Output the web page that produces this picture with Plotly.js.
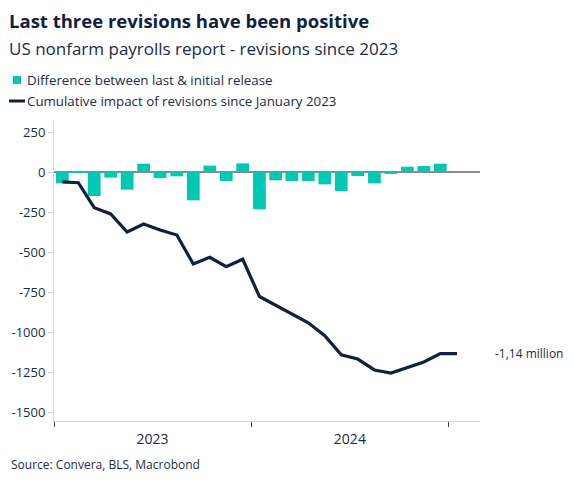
<!DOCTYPE html>
<html>
<head>
<meta charset="utf-8">
<script src="https://cdn.plot.ly/plotly-3.0.1.min.js"></script>
<style>html,body{margin:0;padding:0;background:#fff;}#chart{width:574px;height:483px;}</style>
</head>
<body>
<div id="chart"></div>
<script>
// ---- data ----
const barMonths = ['2023-01','2023-02','2023-03','2023-04','2023-05','2023-06','2023-07','2023-08','2023-09','2023-10','2023-11','2023-12',
                   '2024-01','2024-02','2024-03','2024-04','2024-05','2024-06','2024-07','2024-08','2024-09','2024-10','2024-11','2024-12'];
const revisions = [-71, -6, -150, -35, -110, 52, -37, -27, -177, 40, -56, 54,
                   -233, -52, -56, -56, -77, -119, -25, -71, -12, 33, 37, 52];
const lineMonths = ['2023-01','2023-02','2023-03','2023-04','2023-05','2023-06','2023-07','2023-08','2023-09','2023-10','2023-11','2023-12',
                    '2024-01','2024-02','2024-03','2024-04','2024-05','2024-06','2024-07','2024-08','2024-09','2024-10','2024-11','2024-12','2025-01'];
const cumulative = [-62, -67, -223, -262, -375, -325, -362, -394, -575, -533, -592, -545,
                    -778, -833, -886, -942, -1023, -1142, -1169, -1237, -1256, -1221, -1187, -1135, -1135];
const yTickVals = [250, 0, -250, -500, -750, -1000, -1250, -1500];
const yTickText = ['250', '0', '-250', '-500', '-750', '-1000', '-1250', '-1500'];
const barName = 'Difference between last & initial release';
const lineName = 'Cumulative impact of revisions since January 2023';
const endLabel = '-1,14 million';

// ---- style ----
const NAVY = '#0e2240';
const TEAL = '#00c8b4';
const TXT = '#1b2b48';
const FONT = 'Open Sans, Noto Sans, sans-serif';
const W = 574, H = 483, L = 54, R = 94, T = 120, B = 62;
const pw = W - L - R, ph = H - T - B;
const px = p => (p - L) / pw;
const py = p => (H - B - p) / ph;

const traces = [
  {
    type: 'bar', x: barMonths, y: revisions, name: barName,
    xperiod: 'M1', xperiodalignment: 'middle',
    marker: {color: TEAL, line: {width: 0}},
    showlegend: false, hoverinfo: 'x+y'
  },
  {
    type: 'scatter', mode: 'lines', x: lineMonths, y: cumulative, name: lineName,
    xperiod: 'M1', xperiodalignment: 'middle',
    line: {color: NAVY, width: 3.2},
    showlegend: false
  }
];

const layout = {
  width: W, height: H,
  margin: {l: L, r: R, t: T, b: B},
  paper_bgcolor: '#fff', plot_bgcolor: '#fff',
  font: {family: FONT, color: TXT, size: 13},
  bargap: 0.2,
  showlegend: false,
  title: {
    text: '<b>Last three revisions have been positive</b>',
    font: {family: FONT, size: 18.5, color: NAVY},
    xref: 'container', x: 9 / W, xanchor: 'left',
    yref: 'container', y: 1 - 22 / H, yanchor: 'middle'
  },
  xaxis: {
    type: 'date',
    range: ['2023-01-01', '2025-02-28'],
    tick0: '2023-01-01', dtick: 'M12',
    ticklabelmode: 'period', tickformat: '%Y',
    ticks: 'outside', ticklen: 5, tickcolor: '#444', tickwidth: 1,
    showline: true, linecolor: '#d9d9d9', linewidth: 1,
    showgrid: false, zeroline: false,
    tickfont: {size: 14, color: TXT}
  },
  yaxis: {
    range: [-1556, 325],
    tickvals: yTickVals, ticktext: yTickText,
    ticks: 'outside', ticklen: 5, tickcolor: '#cfcfcf',
    showline: true, linecolor: '#d9d9d9', linewidth: 1,
    showgrid: false,
    zeroline: true, zerolinecolor: '#8a8a8a', zerolinewidth: 1.5,
    tickfont: {size: 13, color: TXT}
  },
  shapes: [
    {type: 'rect', xref: 'paper', yref: 'paper', x0: px(13), x1: px(21), y0: py(84), y1: py(76),
     fillcolor: TEAL, line: {width: 0}},
    {type: 'line', xref: 'paper', yref: 'paper', x0: px(9), x1: px(25), y0: py(101), y1: py(101),
     line: {color: NAVY, width: 3}}
  ],
  annotations: [
    {text: 'US nonfarm payrolls report - revisions since 2023', xref: 'paper', yref: 'paper',
     x: px(7), y: py(48), xanchor: 'left', yanchor: 'middle', showarrow: false,
     font: {size: 17, color: TXT}},
    {text: barName, xref: 'paper', yref: 'paper', x: px(25), y: py(80), xanchor: 'left', yanchor: 'middle',
     showarrow: false, font: {size: 13.3, color: TXT}},
    {text: lineName, xref: 'paper', yref: 'paper', x: px(25), y: py(101), xanchor: 'left', yanchor: 'middle',
     showarrow: false, font: {size: 13.3, color: TXT}},
    {text: endLabel, xref: 'paper', yref: 'y', x: px(493), y: cumulative[cumulative.length - 1],
     xanchor: 'left', yanchor: 'middle', showarrow: false, font: {size: 12, color: TXT}},
    {text: 'Source: Convera, BLS, Macrobond', xref: 'paper', yref: 'paper', x: px(9), y: py(464),
     xanchor: 'left', yanchor: 'middle', showarrow: false, font: {size: 12, color: TXT}}
  ]
};

Plotly.newPlot('chart', traces, layout, {staticPlot: true, displayModeBar: false});
</script>
</body>
</html>
